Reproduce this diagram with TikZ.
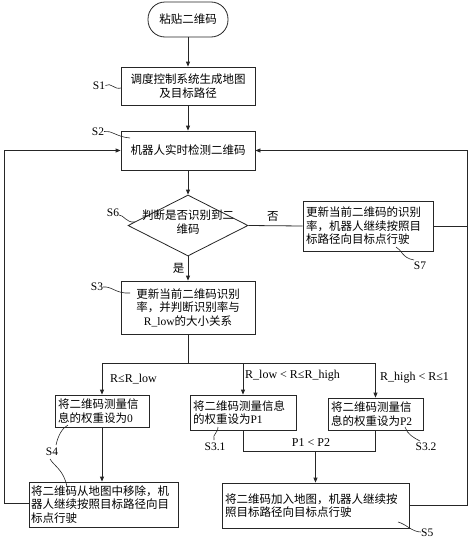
\documentclass[tikz,border=0pt]{standalone}
\usepackage{fontspec}
\setmainfont{Noto Sans CJK SC}
\newfontfamily\lat{Liberation Serif}
\usetikzlibrary{shapes.geometric,arrows.meta}
\begin{document}
\begin{tikzpicture}[x=1pt,y=1pt,
  ln/.style={draw=black!85, line width=0.8pt},
  box/.style={draw=black!85, line width=0.8pt, rectangle, inner xsep=3pt, inner ysep=1pt,
    font=\fontsize{11.5}{13.5}\selectfont},
  arr/.style={ln, -{Triangle[length=5pt,width=4pt]}},
  lbl/.style={font=\lat\fontsize{11.5}{13}\selectfont, inner sep=0},
  lead/.style={draw=black!85, line width=0.6pt},
  cond/.style={font=\lat\fontsize{12}{13}\selectfont, anchor=west, inner sep=0}]
\useasboundingbox (0,0) rectangle (474,-541);

% nodes
\node[box, rounded corners=17pt, minimum width=80pt, minimum height=35pt] (start) at (188,-19.5) {粘贴二维码};
\node[box, minimum width=134pt, minimum height=38pt, align=center] (s1) at (188,-86) {调度控制系统生成地图\\及目标路径};
\node[box, minimum width=134pt, minimum height=39pt, align=center] (s2) at (188,-150.5) {机器人实时检测二维码};
\node[diamond, draw=black!85, line width=0.8pt, minimum width=120pt, minimum height=61pt, inner sep=0pt] (d) at (188,-225.5) {};
\node[font=\fontsize{11.5}{14}\selectfont, align=center, inner sep=0] (dt) at (188,-222.5) {判断是否识别到二\\维码};
\node[box, text width=124pt, minimum height=50pt, align=left] (s7) at (368,-226) {更新当前二维码的识别\\率，机器人继续按照目\\标路径向目标点行驶};
\node[box, minimum width=134pt, minimum height=53pt, align=center] (s3) at (188,-307.5) {更新当前二维码识别\\率，并判断识别率与\\{\lat R\_low}的大小关系};
\node[box, text width=88pt, minimum height=32pt, align=left] (a0) at (102,-411) {将二维码测量信\\息的权重设为{\lat 0}};
\node[box, text width=100pt, minimum height=35pt, align=left] (p1) at (243,-412.5) {将二维码测量信息\\的权重设为{\lat P1}};
\node[box, text width=89pt, minimum height=32pt, align=left] (p2) at (375.5,-414) {将二维码测量信\\息的权重设为{\lat P2}};
\node[box, text width=145pt, inner xsep=2pt, minimum height=45pt, align=left] (rm) at (103.5,-504.5) {将二维码从地图中移除，机\\器人继续按照目标路径向目\\标点行驶};
\node[box, text width=181pt, minimum height=45pt, align=left] (s5) at (315.5,-505.5) {将二维码加入地图，机器人继续按\\照目标路径向目标点行驶};

% main flow
\draw[arr] (start) -- (s1);
\draw[arr] (s1) -- (s2);
\draw[arr] (s2) -- (d.north);
\draw[arr] (d.south) -- node[left, pos=0.5, font=\fontsize{11.5}{13}\selectfont] {是} (s3);
\draw[ln] (d.east) -- node[above, pos=0.45, yshift=1pt, font=\fontsize{11.5}{13}\selectfont] {否} (s7.west);

% branches
\coordinate (br) at (188,-363);
\draw[ln] (s3.south) -- (br);
\draw[ln] (a0.north |- br) -- (p2.north |- br);
\draw[arr] (a0.north |- br) -- (a0.north);
\draw[arr] (p1.north |- br) -- (p1.north);
\draw[arr] (p2.north |- br) -- (p2.north);
\node[cond] (c1) at (110,-379) {R≤R\_low};
\node[cond] (c2) at (245,-376) {R\_low < R≤R\_high};
\node[cond] (c3) at (380,-378) {R\_high < R≤1};

% merge P1/P2
\coordinate (mg) at (315.5,-451);
\draw[ln] (p1.south) -- (p1.south |- mg) -- (p2.south |- mg) -- (p2.south);
\draw[arr] (mg) -- (s5.north);
\node[cond, anchor=south] (pp) at (311,-447) {P1 < P2};

\draw[arr] (a0.south) -- (a0.south |- rm.north);

% loops
\coordinate (lx) at (4,-503);
\coordinate (rx) at (467,-505.5);
\draw[arr] (rm.west |- lx) -- (lx) |- (s2.west);
\draw[arr] (s5.east) -- (rx) |- (s2.east);
\draw[ln] (s7.east) -- (s7.east -| rx);

% step labels
\node[lbl] (l1) at (99,-86) {S1};
\draw[lead] (105.5,-85.5) .. controls (111,-82) and (114,-90) .. (121,-88);
\node[lbl] (l2) at (98,-132) {S2};
\draw[lead] (104,-131.5) .. controls (111,-130) and (117,-137) .. (130,-138);
\node[lbl] (l6) at (113,-213) {S6};
\draw[lead] (119,-215) .. controls (124,-215) and (126,-223) .. (135,-222);
\node[lbl] (l3) at (97,-287) {S3};
\draw[lead] (103,-287) .. controls (112,-286) and (116,-294) .. (130,-293);
\node[lbl] (l7) at (420,-266) {S7};
\draw[lead] (396,-247) .. controls (402,-250) and (402,-258) .. (414,-260);
\node[lbl] (l4) at (52,-452) {S4};
\draw[lead] (56,-445) .. controls (58,-436) and (62,-428) .. (68,-425);
\draw[lead] (50,-459) .. controls (54,-466) and (64,-470) .. (67,-487);
\node[lbl] (l31) at (215,-447) {S3.1};
\draw[lead] (214,-440) .. controls (212,-434) and (219,-432) .. (218,-427);
\node[lbl] (l32) at (426,-447) {S3.2};
\draw[lead] (420,-441) .. controls (414,-438) and (407,-434) .. (405,-427);
\node[lbl, anchor=west] (l5) at (421,-533) {S5};
\draw[lead] (398,-522) .. controls (406,-524) and (412,-532) .. (421,-532);
\end{tikzpicture}
\end{document}
